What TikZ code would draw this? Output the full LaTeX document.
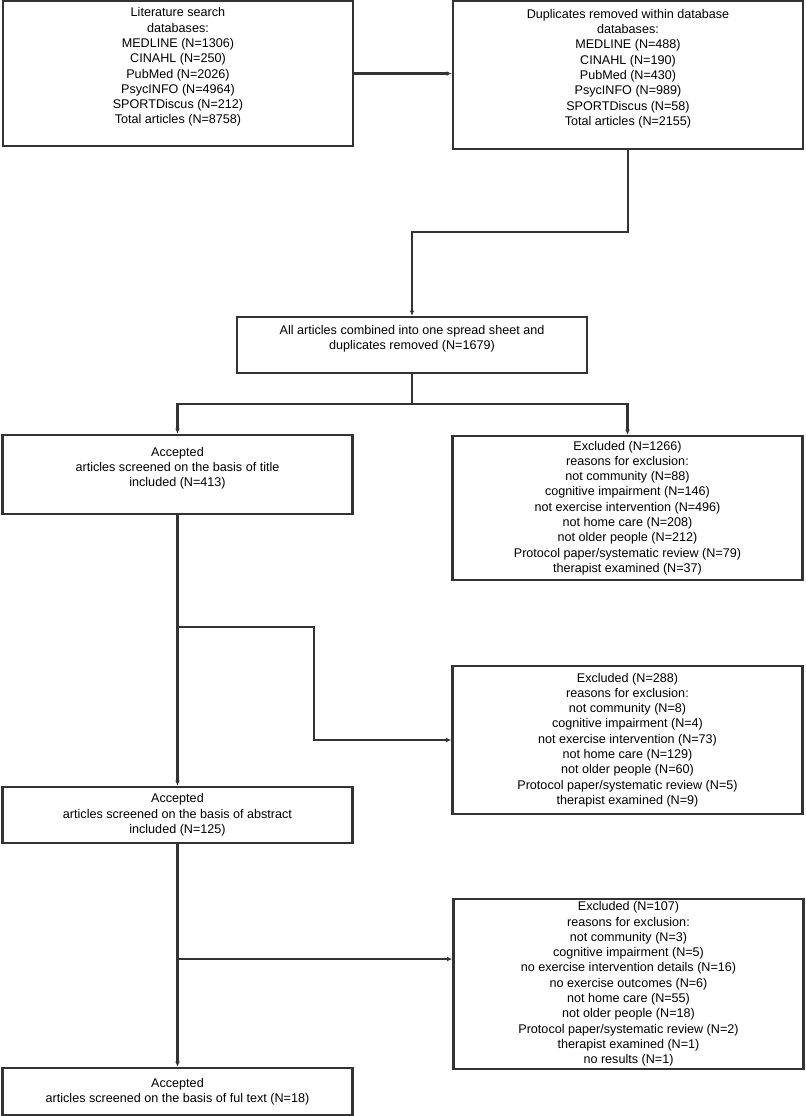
\documentclass[tikz,border=0pt]{standalone}
\usepackage{fontspec}
\setmainfont{Liberation Sans}
\usepackage{tikz}
\usetikzlibrary{arrows.meta}

\tikzset{
  box/.style={draw=black!80, line width=1.25pt, inner sep=0pt, align=center,
    minimum width=175pt, font=\fontsize{6.3}{7.65}\selectfont},
  link/.style={draw=black!80, line width=1.1pt}
}

\begin{document}
\begin{tikzpicture}[x=0.5pt,y=-0.5pt,>={Latex[length=2.6pt,width=2.4pt]}]
\useasboundingbox (0,0) rectangle (806,1116);
% search and duplicates
\node[box,minimum height=72.5pt] (search) at (178,73.5) {Literature search\\databases:\\MEDLINE (N=1306)\\CINAHL (N=250)\\PubMed (N=2026)\\PsycINFO (N=4964)\\SPORTDiscus (N=212)\\Total articles (N=8758)\\ \mbox{}};
\node[box,minimum height=74pt] (dupl) at (628,75) {Duplicates removed within database\\databases:\\MEDLINE (N=488)\\CINAHL (N=190)\\PubMed (N=430)\\PsycINFO (N=989)\\SPORTDiscus (N=58)\\Total articles (N=2155)\\ \mbox{}};
\node[box,minimum height=28pt] (combined) at (412,345) {All articles combined into one spread sheet and\\duplicates removed (N=1679)\\ \mbox{}};
% screening on title
\node[box,minimum height=39.5pt] (title) at (177.5,474.5) {Accepted\\articles screened on the basis of title\\included (N=413)\\ \mbox{}};
\node[box,minimum height=72pt] (excl1) at (627.5,508) {Excluded (N=1266)\\reasons for exclusion:\\not community (N=88)\\cognitive impairment (N=146)\\not exercise intervention (N=496)\\not home care (N=208)\\not older people (N=212)\\Protocol paper/systematic review (N=79)\\therapist examined (N=37)};
% screening on abstract
\node[box,minimum height=74pt] (excl2) at (627.5,740) {Excluded (N=288)\\reasons for exclusion:\\not community (N=8)\\cognitive impairment (N=4)\\not exercise intervention (N=73)\\not home care (N=129)\\not older people (N=60)\\Protocol paper/systematic review (N=5)\\therapist examined (N=9)};
\node[box,minimum height=28pt] (abstract) at (177.5,815) {Accepted\\articles screened on the basis of abstract\\included (N=125)};
% screening on full text
\node[box,minimum height=85pt] (excl3) at (628.5,984) {Excluded (N=107)\\reasons for exclusion:\\not community (N=3)\\cognitive impairment (N=5)\\no exercise intervention details (N=16)\\no exercise outcomes (N=6)\\not home care (N=55)\\not older people (N=18)\\Protocol paper/systematic review (N=2)\\therapist examined (N=1)\\no results (N=1)};
\node[box,minimum height=23.5pt] (fulltext) at (177.5,1091.5) {Accepted\\articles screened on the basis of ful text (N=18)};

\coordinate (bend1) at (412,232);
\coordinate (split1) at (412,404);
\coordinate (split2) at (177.5,627);
\coordinate (bend2) at (314,627);
\coordinate (split3) at (177.5,959);

\draw[link,->] (search.east) -- (search.east -| dupl.west);
\draw[link,->] (dupl.south) |- (bend1) -- (combined.north);
\draw[link] (combined.south) -- (split1);
\draw[link,->] (split1) -| (title.north);
\draw[link,->] (split1) -| (excl1.north);
\draw[link,->] (title.south) -- (abstract.north);
\draw[link,->] (split2) -- (bend2) |- (excl2.west);
\draw[link,->] (abstract.south) -- (fulltext.north);
\draw[link,->] (split3) -- (split3 -| excl3.west);
\end{tikzpicture}
\end{document}
